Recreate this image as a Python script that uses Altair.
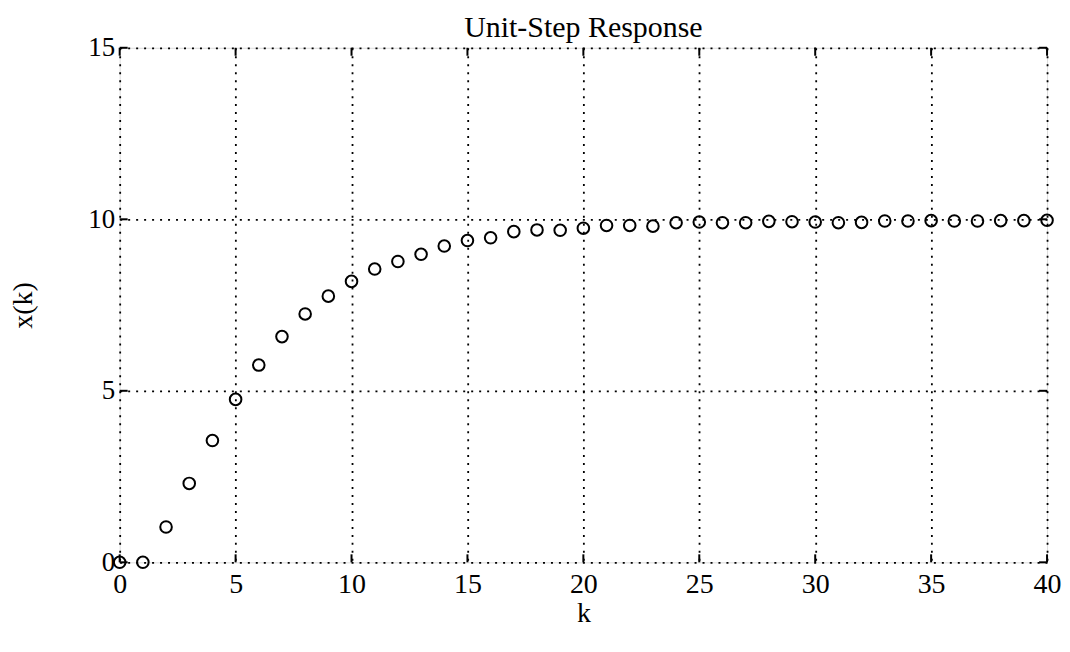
import altair as alt
import pandas as pd

k_values = list(range(0, 41))
x_values = [0.0, 0.0, 1.03, 2.30, 3.55, 4.75, 5.75, 6.58, 7.24, 7.76,
            8.19, 8.55, 8.77, 8.98, 9.22, 9.38, 9.46, 9.64, 9.69, 9.68,
            9.74, 9.82, 9.82, 9.80, 9.90, 9.92, 9.90, 9.90, 9.94, 9.93,
            9.92, 9.90, 9.91, 9.95, 9.95, 9.96, 9.95, 9.95, 9.96, 9.96, 9.97]
x_ticks = [0, 5, 10, 15, 20, 25, 30, 35, 40]
y_ticks = [0, 5, 10, 15]

W, H = 930, 516
FONT = "Liberation Serif"

df = pd.DataFrame({"k": k_values, "x": x_values})
xt = pd.DataFrame({"t": x_ticks})
yt = pd.DataFrame({"t": y_ticks})

xscale = alt.Scale(domain=[0, 40], nice=False, zero=False)
yscale = alt.Scale(domain=[0, 15], nice=False, zero=False)

xaxis = alt.Axis(values=x_ticks, title="k", grid=True, gridColor="black",
                 gridDash=[2, 6], gridWidth=1.8, gridOpacity=1, ticks=False,
                 domain=False, labelFont=FONT, labelFontSize=28, labelColor="black",
                 labelPadding=8, labelBaseline="top", labelFlush=False, labelOverlap=False,
                 titleFont=FONT, titleFontSize=28, titleFontWeight="normal", titleColor="black",
                 titleY=59, titleBaseline="alphabetic")
yaxis = alt.Axis(values=y_ticks, title="x(k)", grid=True, gridColor="black",
                 gridDash=[2, 6], gridWidth=1.8, gridOpacity=1, ticks=False,
                 domain=False, labelFont=FONT, labelFontSize=27, labelColor="black",
                 labelPadding=5, labelBaseline="middle", labelFlush=False, labelOverlap=False,
                 titleFont=FONT, titleFontSize=28, titleFontWeight="normal", titleColor="black",
                 titleX=-96, titleY=H / 2, titleAngle=270, titleBaseline="middle")

points = alt.Chart(df).mark_point(shape="circle", filled=False, color="black",
                                  strokeWidth=2, size=135, opacity=1).encode(
    x=alt.X("k:Q", scale=xscale, axis=xaxis),
    y=alt.Y("x:Q", scale=yscale, axis=yaxis),
)

tick_bottom = alt.Chart(xt).mark_rule(color="black", strokeWidth=2).encode(
    x=alt.X("t:Q", scale=xscale), y=alt.value(H - 8), y2=alt.value(H))
tick_top = alt.Chart(xt).mark_rule(color="black", strokeWidth=2).encode(
    x=alt.X("t:Q", scale=xscale), y=alt.value(0), y2=alt.value(8))
tick_left = alt.Chart(yt).mark_rule(color="black", strokeWidth=2).encode(
    y=alt.Y("t:Q", scale=yscale), x=alt.value(0), x2=alt.value(8))
tick_right = alt.Chart(yt).mark_rule(color="black", strokeWidth=2).encode(
    y=alt.Y("t:Q", scale=yscale), x=alt.value(W - 8), x2=alt.value(W))

chart = alt.layer(tick_bottom, tick_top, tick_left, tick_right, points).properties(
    width=W, height=H,
    title=alt.TitleParams(text="Unit-Step Response", font=FONT, fontSize=30,
                          fontWeight="normal", color="black", baseline="alphabetic",
                          offset=-33),
    autosize=alt.AutoSizeParams(type="none"),
    padding={"left": 112, "top": 39, "right": 15, "bottom": 72},
).configure_view(stroke="black", strokeWidth=2.5).configure(background="white")

chart.save("out.html", embed_options={"renderer": "svg", "actions": False})
